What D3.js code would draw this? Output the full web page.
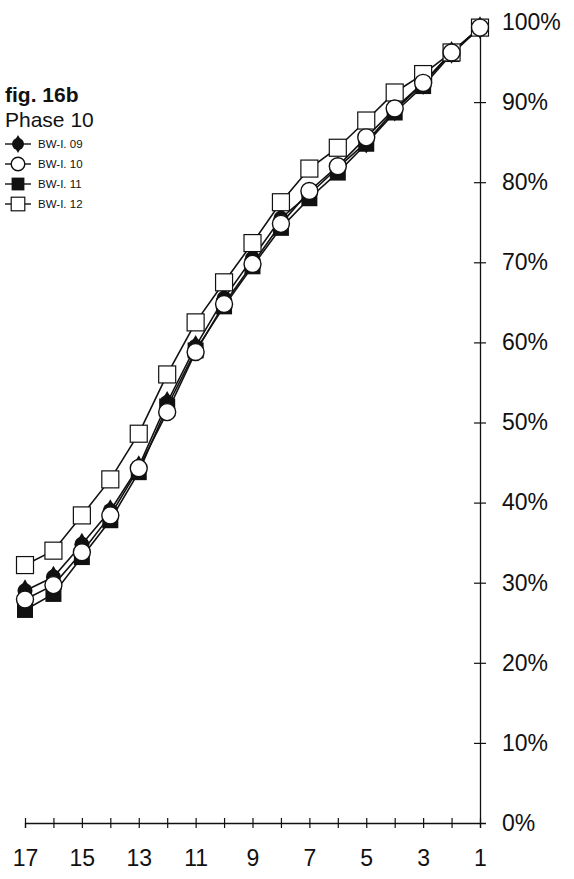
<!DOCTYPE html>
<html>
<head>
<meta charset="utf-8">
<script src="https://cdn.jsdelivr.net/npm/d3@7"></script>
<style>
  body { margin: 0; background: #fff; }
  text { font-family: "Liberation Sans", Arial, sans-serif; fill: #111; }
</style>
</head>
<body>
<svg id="chart" width="574" height="879"></svg>
<script>
// positions along the x axis (counting down to 1)
const steps = [17, 16, 15, 14, 13, 12, 11, 10, 9, 8, 7, 6, 5, 4, 3, 2, 1];
const xTickLabels = [17, 15, 13, 11, 9, 7, 5, 3, 1];
const yTicks = [0, 10, 20, 30, 40, 50, 60, 70, 80, 90, 100];

// cumulative percent per series
const bw09 = [29.0, 30.7, 34.8, 39.0, 44.5, 52.5, 59.5, 65.5, 70.5, 75.5, 78.5, 81.8, 85.0, 89.0, 92.3, 96.2, 99.3];
const bw10 = [27.9, 29.7, 33.8, 38.4, 44.3, 51.3, 58.8, 64.8, 69.8, 74.8, 78.9, 82.0, 85.6, 89.2, 92.4, 96.2, 99.3];
const bw11 = [26.6, 28.6, 33.2, 37.8, 43.8, 52.0, 59.0, 64.5, 69.5, 74.3, 78.0, 81.2, 84.8, 88.7, 92.0, 96.0, 99.3];
const bw12 = [32.2, 34.0, 38.4, 42.9, 48.6, 56.0, 62.5, 67.5, 72.4, 77.5, 81.7, 84.3, 87.7, 91.2, 93.5, 96.2, 99.3];

const seriesNames = ["BW-I. 09", "BW-I. 10", "BW-I. 11", "BW-I. 12"];

const svg = d3.select("#chart");

var x = d3.scaleLinear().domain([17, 1]).range([25, 480]);
var y = d3.scaleLinear().domain([0, 100]).range([823, 22]);

// x axis, ticks cross the line
var gx = svg.append("g")
  .attr("transform", "translate(0,823)")
  .call(d3.axisBottom(x)
    .tickValues(steps)
    .tickSizeOuter(0)
    .tickSize(5)
    .tickPadding(22)
    .tickFormat(d => xTickLabels.includes(d) ? d : ""));
gx.select(".domain").attr("stroke", "#111").attr("stroke-width", 1.3);
gx.selectAll(".tick line").attr("y1", -5).attr("y2", 5).attr("stroke", "#111").attr("stroke-width", 1.2);
gx.selectAll(".tick text").style("font-size", "23px").attr("dy", "0.71em");

// y axis on the right
var gy = svg.append("g")
  .attr("transform", "translate(480,0)")
  .call(d3.axisRight(y)
    .tickValues(yTicks)
    .tickSizeOuter(0)
    .tickSize(6)
    .tickPadding(16)
    .tickFormat(d => d + "%"));
gy.select(".domain").attr("stroke", "#111").attr("stroke-width", 1.3);
gy.selectAll(".tick line").attr("x1", -6).attr("x2", 6).attr("stroke", "#111").attr("stroke-width", 1.2);
gy.selectAll(".tick").filter(d => d === 0 || d === 100).select("line").remove();
gy.selectAll(".tick text").style("font-size", "23px");

// series data
const series = [
  { name: seriesNames[0], vals: bw09, kind: "blob" },
  { name: seriesNames[1], vals: bw10, kind: "circle" },
  { name: seriesNames[2], vals: bw11, kind: "fsquare" },
  { name: seriesNames[3], vals: bw12, kind: "square" }
];

var line = d3.line()
  .x((d, i) => x(steps[i]))
  .y(d => y(d));

series.forEach(s => {
  svg.append("path")
    .attr("d", line(s.vals))
    .attr("fill", "none")
    .attr("stroke", "#111")
    .attr("stroke-width", 1.6);
});

function drawMarker(g, kind, cx, cy, scale) {
  const k = scale || 1;
  if (kind === "circle") {
    g.append("circle").attr("cx", cx).attr("cy", cy).attr("r", 8.5 * k)
      .attr("fill", "#fff").attr("stroke", "#111").attr("stroke-width", 1.4);
  } else if (kind === "square") {
    const s = 17 * k;
    g.append("rect").attr("x", cx - s / 2).attr("y", cy - s / 2).attr("width", s).attr("height", s)
      .attr("fill", "#fff").attr("stroke", "#111").attr("stroke-width", 1.2);
  } else if (kind === "fsquare") {
    const s = 16 * k;
    g.append("rect").attr("x", cx - s / 2).attr("y", cy - s / 2).attr("width", s).attr("height", s)
      .attr("fill", "#111");
  } else {
    // filled circle with small points
    g.append("path")
      .attr("d", d3.symbol().type(d3.symbolDiamond).size(150 * k * k)())
      .attr("transform", `translate(${cx},${cy})`)
      .attr("fill", "#111");
    g.append("circle").attr("cx", cx).attr("cy", cy).attr("r", 7.5 * k).attr("fill", "#111");
  }
}

// draw order: filled ones behind, circles on top
["fsquare", "blob", "square", "circle"].forEach(kind => {
  const s = series.find(t => t.kind === kind);
  const g = svg.append("g");
  s.vals.forEach((v, i) => drawMarker(g, kind, x(steps[i]), y(v)));
});

// titles
svg.append("text").attr("x", 5).attr("y", 102)
  .style("font-size", "21px").style("font-weight", "bold").text("fig. 16b");
svg.append("text").attr("x", 5).attr("y", 127)
  .style("font-size", "21px").text("Phase 10");

// legend
const legend = svg.append("g");
series.forEach((s, i) => {
  const ly = 144 + i * 20;
  legend.append("line").attr("x1", 5).attr("x2", 31).attr("y1", ly).attr("y2", ly)
    .attr("stroke", "#111").attr("stroke-width", 1.4);
  drawMarker(legend, s.kind, 18, ly, 0.8);
  legend.append("text").attr("x", 38).attr("y", ly).attr("dy", "0.36em")
    .style("font-size", "11.5px").text(s.name);
});
</script>
</body>
</html>
